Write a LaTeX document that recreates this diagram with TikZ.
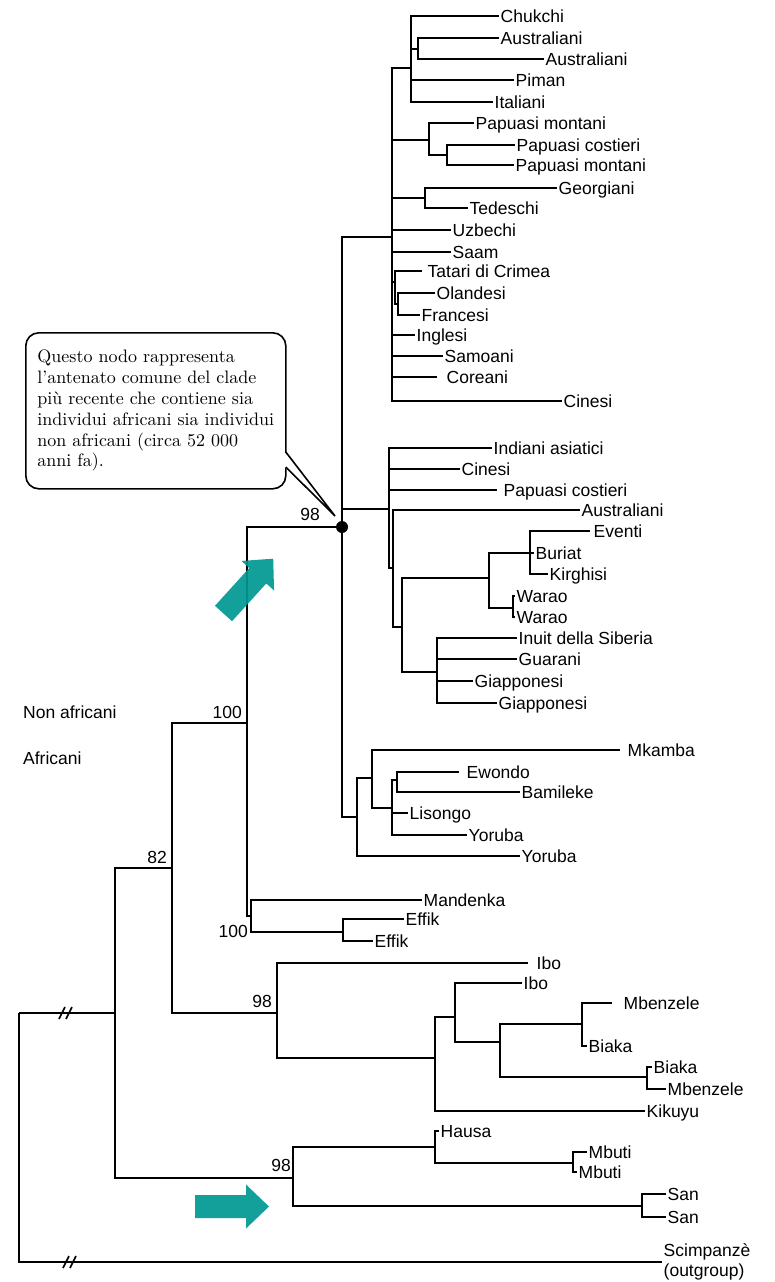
\documentclass[tikz,border=0pt]{standalone}
\usepackage{fontspec}
\newfontfamily\treefont{Liberation Sans}
\newfontfamily\notefont{lmroman10-regular.otf}
\usetikzlibrary{calc}
\definecolor{arrowteal}{RGB}{0,152,146}
\newcommand\treelabel{\treefont\fontsize{17.5}{20}\selectfont}
\newcommand\notetext{\notefont\fontsize{18}{20.8}\selectfont}

\begin{document}
\begin{tikzpicture}[x=1pt,y=-1pt,
  branch/.style={line width=2.8pt},
  leaf/.style={anchor=west, inner xsep=1.5pt, inner ysep=0pt, text height=13.5pt, text depth=1pt, font=\treelabel},
  support/.style={anchor=base east, inner sep=0pt, font=\treelabel},
  grouplabel/.style={anchor=base west, inner sep=0pt, font=\treelabel},
  notebox/.style={draw, line width=1.6pt, rounded corners=13pt, fill=white, align=left,
    inner xsep=10pt, inner ysep=0pt, minimum width=260pt, minimum height=156pt,
    font=\notetext},
  slash/.style={line width=1.6pt},
  blockarrow/.pic={\fill[arrowteal, fill opacity=0.92]
    (0,-11.5) -- (51,-11.5) -- (51,-22) -- (74,0) -- (51,22) -- (51,11.5) -- (0,11.5) -- cycle;}
]
\fill[white] (0,0) rectangle (775,1282);
\useasboundingbox (0,0) rectangle (775,1282);

% ---------- leaves ----------
% Eurasian clade
\node[leaf] (chukchi) at (499,16) {Chukchi};
\node[leaf] (aus1) at (499,38) {Australiani};
\node[leaf] (aus2) at (544,59) {Australiani};
\node[leaf] (piman) at (514,80) {Piman};
\node[leaf] (ita) at (493,102) {Italiani};
\node[leaf] (papm1) at (474,123) {Papuasi montani};
\node[leaf] (papc1) at (515,145) {Papuasi costieri};
\node[leaf] (papm2) at (514,165) {Papuasi montani};
\node[leaf] (geo) at (557,188) {Georgiani};
\node[leaf] (ted) at (468,208) {Tedeschi};
\node[leaf] (uzb) at (451,230) {Uzbechi};
\node[leaf] (saam) at (451,252) {Saam};
\node[leaf] (tat) at (426,271) {Tatari di Crimea};
\node[leaf] (ola) at (435,293) {Olandesi};
\node[leaf] (fra) at (420,315) {Francesi};
\node[leaf] (ing) at (415,335) {Inglesi};
\node[leaf] (sam) at (443,356) {Samoani};
\node[leaf] (cor) at (445,377) {Coreani};
\node[leaf] (cin1) at (562,401) {Cinesi};
% Asian / American clade
\node[leaf] (ind) at (492,448) {Indiani asiatici};
\node[leaf] (cin2) at (460,469) {Cinesi};
\node[leaf] (papc2) at (502,490) {Papuasi costieri};
\node[leaf] (aus3) at (580,510) {Australiani};
\node[leaf] (eve) at (592,531) {Eventi};
\node[leaf] (bur) at (534,553) {Buriat};
\node[leaf] (kir) at (548,574) {Kirghisi};
\node[leaf] (war1) at (515,596) {Warao};
\node[leaf] (war2) at (515,617) {Warao};
\node[leaf] (inu) at (517,638) {Inuit della Siberia};
\node[leaf] (gua) at (517,659) {Guarani};
\node[leaf] (gia1) at (473,681) {Giapponesi};
\node[leaf] (gia2) at (497,703) {Giapponesi};
% African clades
\node[leaf] (mka) at (626,750) {Mkamba};
\node[leaf] (ewo) at (465,772) {Ewondo};
\node[leaf] (bam) at (520,792) {Bamileke};
\node[leaf] (lis) at (408,813) {Lisongo};
\node[leaf] (yor1) at (467,835) {Yoruba};
\node[leaf] (yor2) at (520,856) {Yoruba};
\node[leaf] (man) at (422,900) {Mandenka};
\node[leaf] (eff1) at (404,919) {Effik};
\node[leaf] (eff2) at (373,941) {Effik};
\node[leaf] (ibo1) at (535,963) {Ibo};
\node[leaf] (ibo2) at (522,983) {Ibo};
\node[leaf] (mbe1) at (622,1003) {Mbenzele};
\node[leaf] (bia1) at (587,1046) {Biaka};
\node[leaf] (bia2) at (652,1067) {Biaka};
\node[leaf] (mbe2) at (666,1089) {Mbenzele};
\node[leaf] (kik) at (645,1111) {Kikuyu};
\node[leaf] (hau) at (439,1131) {Hausa};
\node[leaf] (mbu1) at (587,1152) {Mbuti};
\node[leaf] (mbu2) at (577,1172) {Mbuti};
\node[leaf] (san1) at (666,1194) {San};
\node[leaf] (san2) at (666,1217) {San};
\node[leaf, align=left, text height=, text depth=] (chimp) at (662,1262) {Scimpanzè\\(outgroup)};

% ---------- internal nodes ----------
\coordinate (R) at (19,1013);
\coordinate (I) at (115,1013);
\coordinate (N82) at (172,868);
\coordinate (N100) at (247,723);
\coordinate (Nnon) at (342,527);
\coordinate (T) at (392,237);
\coordinate (Tc) at (411,68);
\coordinate (Tau) at (418,49);
\coordinate (Tp) at (429,140);
\coordinate (Tpp) at (447,155);
\coordinate (Tg) at (425,198);
\coordinate (Tt) at (395,282);
\coordinate (Tof) at (398,304);
\coordinate (S) at (389,509);
\coordinate (S2) at (393,568);
\coordinate (S3) at (402,627);
\coordinate (S4) at (489,578);
\coordinate (S6) at (530,553);
\coordinate (S7) at (513,608);
\coordinate (S5) at (437,672);
\coordinate (A3) at (357,817);
\coordinate (B1) at (372,778);
\coordinate (B2) at (392,808);
\coordinate (B3) at (397,780);
\coordinate (ME) at (251,916);
\coordinate (EP) at (343,932);
\coordinate (N98a) at (277,1013);
\coordinate (C1) at (435,1058);
\coordinate (C2) at (455,1017);
\coordinate (C3) at (500,1042);
\coordinate (C4) at (582,1024);
\coordinate (C5) at (647,1077);
\coordinate (N98b) at (293,1178);
\coordinate (D1) at (435,1147);
\coordinate (D3) at (573,1163);
\coordinate (D2) at (642,1206);

% ---------- branches ----------
\foreach \p/\c in {R/I, R/chimp, I/N82, I/N98b, N82/N100, N82/N98a, N100/Nnon, N100/ME,
    Nnon/T, Nnon/S, Nnon/A3,
    T/Tc, T/Tp, T/Tg, T/uzb, T/saam, T/Tt, T/ing, T/sam, T/cin1,
    Tc/chukchi, Tc/Tau, Tc/piman, Tc/ita, Tau/aus1, Tau/aus2,
    Tp/papm1, Tp/Tpp, Tpp/papc1, Tpp/papm2, Tg/geo, Tg/ted,
    Tt/Tof, Tof/ola, Tof/fra,
    S/ind, S/cin2, S/S2, S2/aus3, S2/S3, S3/S4, S3/S5, S4/S6, S4/S7,
    S6/bur, S6/kir, S7/war1, S7/war2, S5/inu, S5/gua, S5/gia1, S5/gia2,
    A3/B1, A3/yor2, B1/B2, B2/B3, B2/lis, B2/yor1, B3/bam,
    ME/man, ME/EP, EP/eff1, EP/eff2,
    N98a/C1, C1/C2, C1/kik, C2/ibo2, C2/C3, C3/C4, C3/C5, C4/bia1, C5/bia2, C5/mbe2,
    N98b/D1, N98b/D2, D1/hau, D1/D3, D3/mbu1, D3/mbu2, D2/san1, D2/san2}
  \draw[branch] (\p) |- (\c);
% branches that stop short of their label
\foreach \p/\c/\g in {T/cor/8pt, Tt/tat/4pt, S/papc2/5pt, S6/eve/2pt, B1/mka/6pt,
    B3/ewo/6pt, N98a/ibo1/7pt, C4/mbe1/10pt}
  \draw[branch, shorten >=\g] (\p) |- (\c);

% broken-axis marks
\foreach \x in {62,69} \draw[slash] (\x-3,1019) -- (\x+3,1007);
\foreach \x in {66,73} \draw[slash] (\x-3,1268) -- (\x+3,1256);

% common ancestor of the clade
\fill (Nnon) circle[radius=6pt];

% ---------- bootstrap values ----------
\node[support] (s98top) at (320,520) {98};
\node[support] (s100a) at (242,718) {100};
\node[support] (s82) at (167,863) {82};
\node[support] (s100b) at (248,937) {100};
\node[support] (s98a) at (272,1007) {98};
\node[support] (s98b) at (291,1171) {98};

\node[grouplabel] (nonafr) at (23,718) {Non africani};
\node[grouplabel] (afr) at (23,764) {Africani};

% ---------- callout ----------
\node[notebox, anchor=north west] (note) at (25,332)
  {Questo nodo rappresenta\\l’antenato comune del clade\\più recente che contiene sia\\individui africani sia individui\\non africani (circa 52~000\\anni fa).};
\coordinate (tip) at (335,516);
\fill[white] ($(note.north east)+(-2,120)$) -- (tip) -- ($(note.north east)+(-2,135)$) -- cycle;
\draw[line width=1.6pt] ($(note.north east)+(-0.8,120)$) -- (tip) -- ($(note.north east)+(-0.8,135)$);

% ---------- highlight arrows ----------
\pic[rotate=47.8] at (223.5,613.5) {blockarrow};
\pic at (195,1206.5) {blockarrow};
\end{tikzpicture}
\end{document}
